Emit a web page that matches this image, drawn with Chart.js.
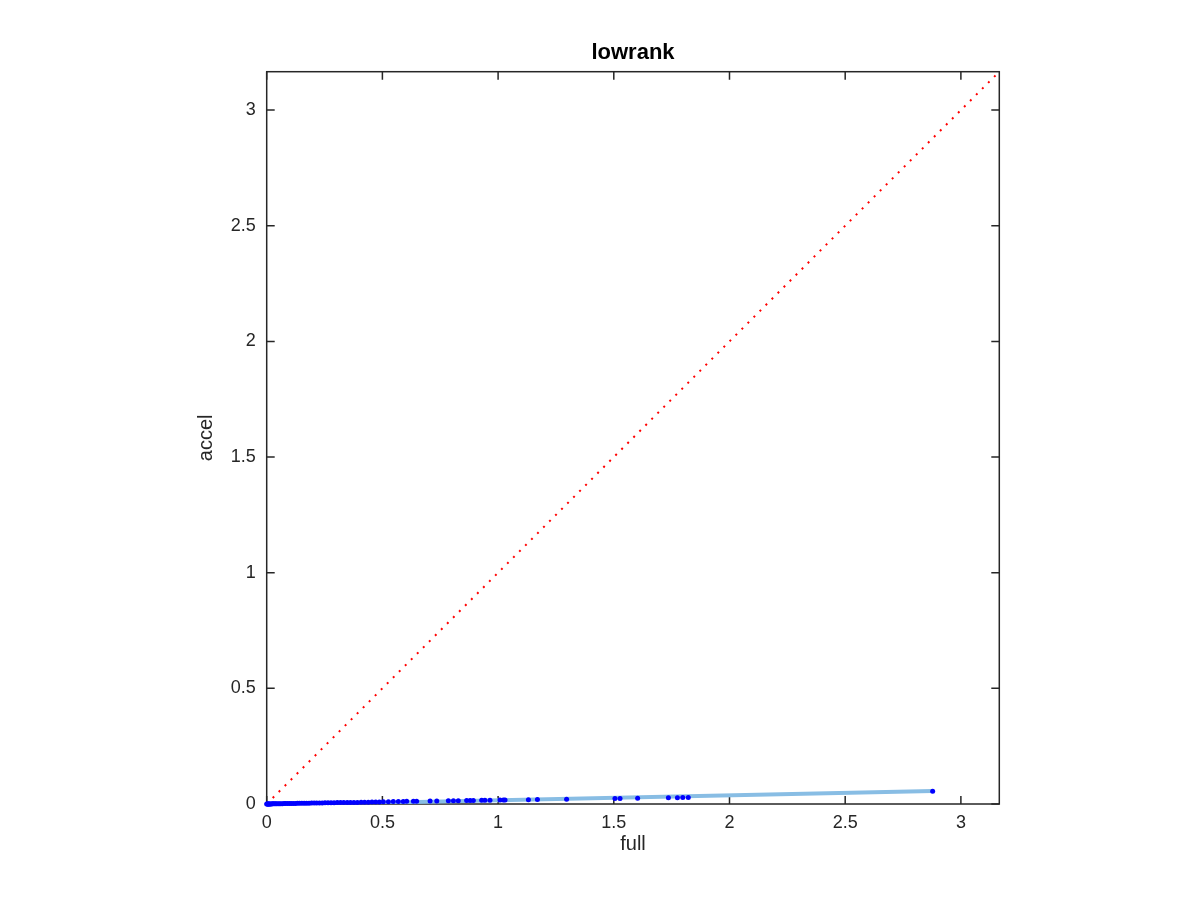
<!DOCTYPE html>
<html>
<head>
<meta charset="utf-8">
<script src="https://cdn.jsdelivr.net/npm/chart.js@4"></script>
<style>
  html, body { margin: 0; padding: 0; background: #fff; }
  #wrap { width: 1200px; height: 900px; }
</style>
</head>
<body>
<div id="wrap"><canvas id="c" width="1200" height="900"></canvas></div>
<script>
// ---- data ----
const fullVals = [
  0, 0.002, 0.004, 0.006, 0.008, 0.01, 0.013, 0.016, 0.02, 0.024, 0.028, 0.033, 0.038, 0.043,
  0.049, 0.055, 0.061, 0.068, 0.075, 0.082, 0.09, 0.098, 0.106, 0.115, 0.124, 0.133, 0.142,
  0.152, 0.162, 0.172, 0.183, 0.194, 0.205, 0.216, 0.228, 0.24, 0.252, 0.265, 0.278, 0.291,
  0.305, 0.319, 0.333, 0.348, 0.362, 0.377, 0.392, 0.408, 0.423, 0.439, 0.455, 0.471, 0.487,
  0.504, 0.526, 0.547, 0.569, 0.59, 0.605, 0.634, 0.648, 0.706, 0.735, 0.785, 0.807, 0.828,
  0.864, 0.879, 0.893, 0.929, 0.943, 0.965, 1.008, 1.023, 1.03, 1.131, 1.17, 1.296, 1.505,
  1.527, 1.603, 1.736, 1.775, 1.798, 1.822, 2.878
];
const accelVals = [
  0, 0, 0, 0, 0, 0, 0, 0, 0, 0.001, 0.001, 0.001, 0.001, 0.001,
  0.001, 0.001, 0.001, 0.001, 0.002, 0.002, 0.002, 0.002, 0.002, 0.002, 0.002, 0.003, 0.003,
  0.003, 0.003, 0.003, 0.003, 0.004, 0.004, 0.004, 0.004, 0.004, 0.005, 0.005, 0.005, 0.005,
  0.006, 0.006, 0.006, 0.006, 0.007, 0.007, 0.007, 0.008, 0.008, 0.008, 0.009, 0.009, 0.009,
  0.01, 0.01, 0.011, 0.011, 0.011, 0.012, 0.012, 0.012, 0.013, 0.013, 0.014, 0.014, 0.014,
  0.015, 0.015, 0.015, 0.016, 0.016, 0.016, 0.017, 0.017, 0.017, 0.018, 0.019, 0.021, 0.024,
  0.024, 0.025, 0.027, 0.027, 0.028, 0.028, 0.055
];
const fitX = [0, 2.878];
const fitY = [-0.005, 0.056];
const diagX = [0, 3.166];
const diagY = [0, 3.166];
const axisMax = 3.166;
const tickStep = 0.5;

const FONT = "'Liberation Sans', Arial, Helvetica, sans-serif";
const INK = '#262626';

const pts = (xs, ys) => xs.map((x, i) => ({ x: x, y: ys[i] }));

// MATLAB-like box with inward ticks on all four sides
const boxPlugin = {
  id: 'box',
  beforeDatasetsDraw(chart) {
    const { ctx, chartArea: a, scales } = chart;
    ctx.save();
    ctx.strokeStyle = INK;
    ctx.lineWidth = 1.5;
    ctx.strokeRect(a.left, a.top, a.right - a.left, a.bottom - a.top);
    const len = 8;
    ctx.beginPath();
    scales.x.ticks.forEach(t => {
      const px = scales.x.getPixelForValue(t.value);
      ctx.moveTo(px, a.bottom); ctx.lineTo(px, a.bottom - len);
      ctx.moveTo(px, a.top); ctx.lineTo(px, a.top + len);
    });
    scales.y.ticks.forEach(t => {
      const py = scales.y.getPixelForValue(t.value);
      ctx.moveTo(a.left, py); ctx.lineTo(a.left + len, py);
      ctx.moveTo(a.right, py); ctx.lineTo(a.right - len, py);
    });
    ctx.stroke();
    ctx.restore();
  }
};

const tickCfg = {
  stepSize: tickStep,
  includeBounds: false,
  color: INK,
  font: { family: FONT, size: 18 },
  callback: v => String(v)
};

new Chart(document.getElementById('c'), {
  type: 'scatter',
  data: {
    datasets: [
      {
        label: 'points',
        data: pts(fullVals, accelVals),
        pointRadius: 2.5,
        pointBackgroundColor: '#0000ff',
        pointBorderWidth: 0,
        showLine: false,
        clip: false,
        order: 0
      },
      {
        label: 'fit',
        data: pts(fitX, fitY),
        showLine: true,
        borderColor: '#88bde4',
        borderWidth: 4,
        pointRadius: 0,
        order: 1
      },
      {
        label: 'diag',
        data: pts(diagX, diagY),
        showLine: true,
        borderColor: '#ff0000',
        borderWidth: 2,
        borderDash: [2, 6.5],
        pointRadius: 0,
        order: 2
      }
    ]
  },
  options: {
    responsive: false,
    animation: false,
    layout: { padding: { left: 0, top: 0, right: 200.7, bottom: 0 } },
    plugins: {
      legend: { display: false },
      tooltip: { enabled: false },
      title: {
        display: true,
        fullSize: false,
        text: 'lowrank',
        color: '#000',
        font: { family: FONT, size: 22, weight: 'bold' },
        padding: { top: 39.7, bottom: 5.6 }
      }
    },
    scales: {
      x: {
        type: 'linear',
        min: 0,
        max: axisMax,
        grid: { display: false, drawTicks: false },
        border: { display: false },
        ticks: Object.assign({ padding: 8 }, tickCfg),
        title: {
          display: true,
          text: 'full',
          color: INK,
          font: { family: FONT, size: 20 },
          padding: { top: 0, bottom: 43.5 }
        },
        afterFit(scale) { scale.height = 96; }
      },
      y: {
        type: 'linear',
        min: 0,
        max: axisMax,
        grid: { display: false, drawTicks: false },
        border: { display: false },
        ticks: Object.assign({ padding: 11 }, tickCfg),
        title: {
          display: true,
          text: 'accel',
          color: INK,
          font: { family: FONT, size: 20 },
          padding: { top: 194, bottom: 0 }
        },
        afterFit(scale) { scale.width = 266.7; }
      }
    }
  },
  plugins: [boxPlugin]
});
</script>
</body>
</html>
